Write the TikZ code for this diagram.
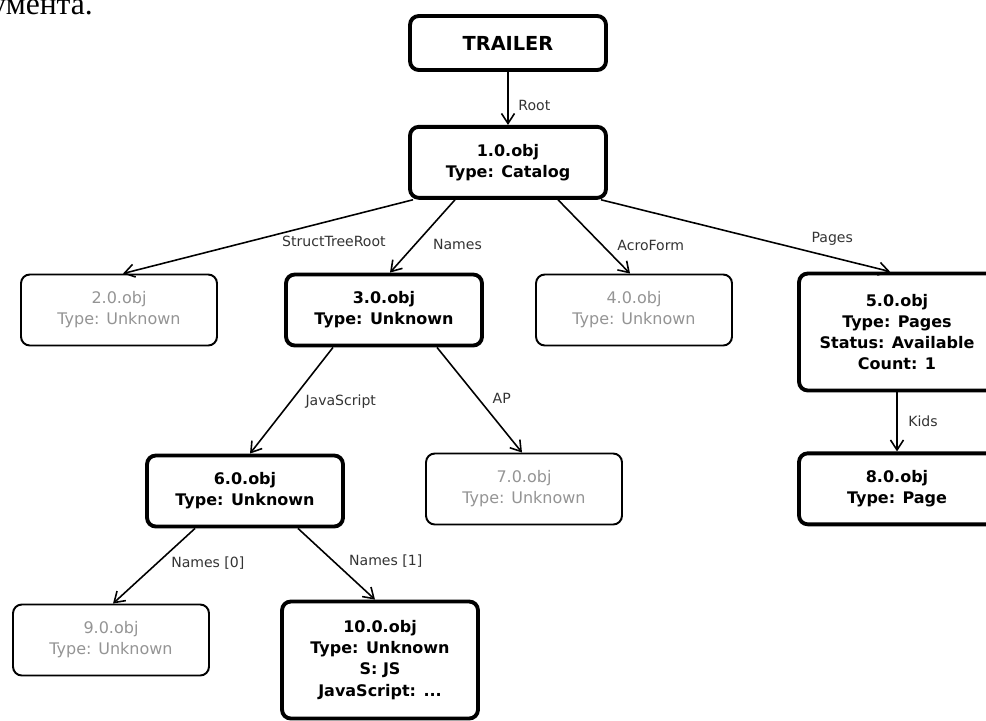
\documentclass[tikz,border=0pt]{standalone}
\usepackage{fontspec}
\setmainfont{DejaVu Sans}
\newfontfamily\cyrserif{Liberation Serif}
\usetikzlibrary{positioning,arrows.meta,calc}
\tikzset{
  obiect/.style     = {draw, line width=2.2pt, rounded corners=5pt, align=center,
                       minimum width=3.92cm, minimum height=1.42cm, inner sep=2pt,
                       font=\fontsize{9.1}{12}\selectfont\bfseries},
  obiectmare/.style = {obiect, minimum height=2.34cm},
  necunoscut/.style = {obiect, line width=1.1pt, text=black!42,
                       font=\fontsize{9.1}{12}\selectfont},
  cheie/.style      = {font=\fontsize{8}{10}\selectfont, text=black!80, inner sep=1pt},
  legatura/.style   = {-{Straight Barb[length=2mm, width=2.6mm]}, line width=0.9pt}
}

\begin{document}
\begin{tikzpicture}[x=0.02cm, y=-0.02cm]
		\useasboundingbox (0,0) rectangle (986,720);
		\clip (0,0) rectangle (986,720);
		\node[anchor=base west, inner sep=0, font=\cyrserif\fontsize{18}{20}\selectfont] (fragment) at (-10,14.5) {умента.};

		\node[obiect, minimum height=1.08cm, font=\fontsize{11}{13}\selectfont\bfseries] (trailer) at (508,43) {TRAILER};
		\node[obiect, below=1.06cm of trailer] (o1) {1.0.obj\\ Type: Catalog};
		\node[necunoscut] (o2) at (119,310) {2.0.obj\\ Type: Unknown};
		\node[obiect] (o3) at (384,310) {3.0.obj\\ Type: Unknown};
		\node[necunoscut] (o4) at (634,310) {4.0.obj\\ Type: Unknown};
		\node[obiectmare] (o5) at (897,332) {5.0.obj\\ Type: Pages\\ Status: Available\\ Count: 1};
		\node[obiect, below=1.18cm of o5] (o8) {8.0.obj\\ Type: Page};
		\node[obiect] (o6) at (245,491) {6.0.obj\\ Type: Unknown};
		\node[necunoscut] (o7) at (524,489) {7.0.obj\\ Type: Unknown};
		\node[necunoscut] (o9) at (111,640) {9.0.obj\\ Type: Unknown};
		\node[obiectmare] (o10) at (380,660) {10.0.obj\\ Type: Unknown\\ S: JS\\ JavaScript: ...};

		\draw[legatura] (trailer) -- node[cheie, pos=0.64, right=4.5pt] {Root} (o1);
		\draw[legatura] ($(o1.south)+(-95,0)$) -- node[cheie, pos=0.46, anchor=north west] {StructTreeRoot} ($(o2.north)+(4,0)$);
		\draw[legatura] ($(o1.south)+(-53,0)$) -- node[cheie, pos=0.62, right=9pt] {Names} ($(o3.north)+(6,0)$);
		\draw[legatura] ($(o1.south)+(50,0)$) -- node[cheie, pos=0.62, right=7pt] {AcroForm} ($(o4.north)+(-4,0)$);
		\draw[legatura] ($(o1.south)+(93,0)$) -- node[cheie, pos=0.8, above=5pt] {Pages} ($(o5.north)+(-7,0)$);
		\draw[legatura] ($(o3.south)+(-51,0)$) -- node[cheie, pos=0.51, right=7pt] {JavaScript} ($(o6.north)+(5,0)$);
		\draw[legatura] ($(o3.south)+(53,0)$) -- node[cheie, pos=0.48, right=7pt] {AP} ($(o7.north)+(-2,0)$);
		\draw[legatura] ($(o6.south)+(-50,0)$) -- node[cheie, pos=0.46, right=6.5pt] {Names [0]} ($(o9.north)+(2,0)$);
		\draw[legatura] ($(o6.south)+(53,0)$) -- node[cheie, pos=0.46, right=7.5pt] {Names [1]} ($(o10.north)+(-5,0)$);
		\draw[legatura] (o5) -- node[cheie, pos=0.49, right=5pt] {Kids} (o8);
	\end{tikzpicture}
\end{document}
